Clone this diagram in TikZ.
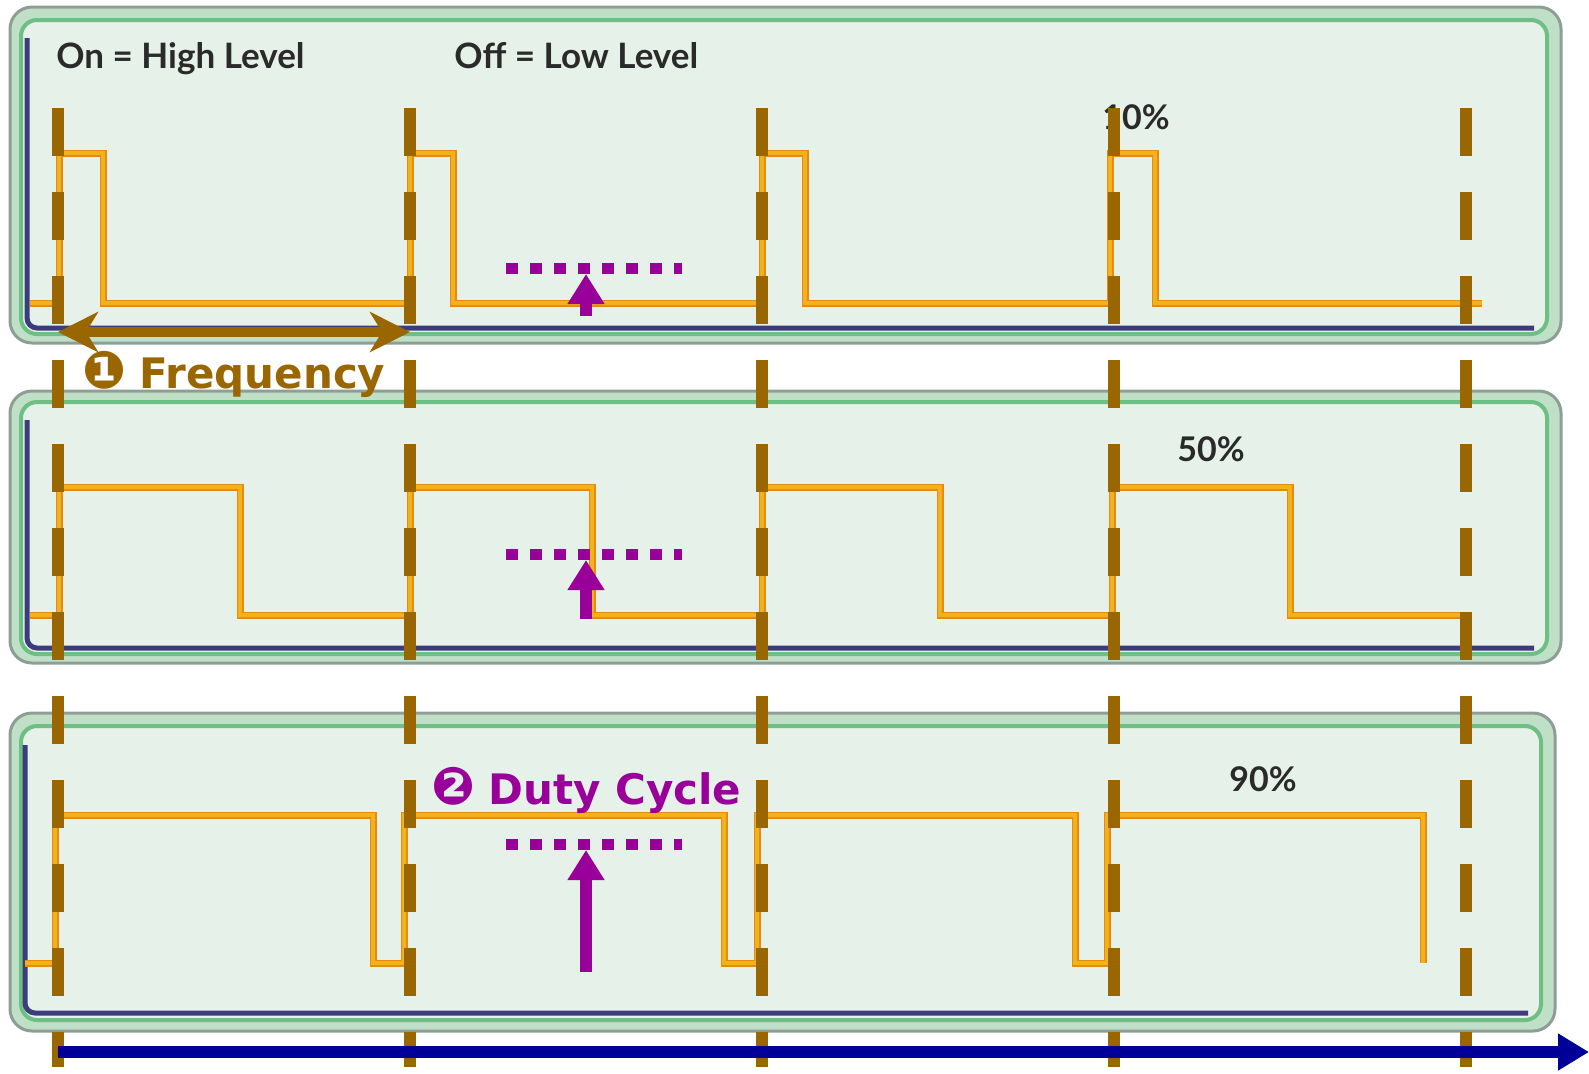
\documentclass[tikz,border=0pt]{standalone}
\usepackage{fontspec}
\usetikzlibrary{arrows.meta}
\newfontfamily\latofont{Lato}
\newfontfamily\dejavu{DejaVu Sans}
\definecolor{brownd}{HTML}{996600}
\definecolor{purp}{HTML}{990099}
\definecolor{bluea}{HTML}{000099}
\definecolor{pgray}{HTML}{8E9E94}
\definecolor{pband}{HTML}{BFE0C7}
\definecolor{pgreen}{HTML}{6EBF84}
\definecolor{pfill}{HTML}{E6F1E9}
\definecolor{pnavy}{HTML}{3C3C7C}
\definecolor{wvor}{HTML}{E68A12}
\definecolor{wvye}{HTML}{F2B31A}
\definecolor{txtg}{HTML}{2A2A2A}
\newcommand{\mybullet}[1]{{\fontsize{26}{28}\selectfont #1}\hspace{6.5pt}}
\tikzset{
  panelouter/.style={draw=pgray, line width=1.5pt, fill=pband, rounded corners=11pt},
  panelinner/.style={draw=pgreen, line width=2pt, fill=pfill, rounded corners=8pt},
  navyline/.style={draw=pnavy, line width=2.5pt, rounded corners=5pt},
  wave/.style={draw=wvye, line width=2.2pt, line join=miter, preaction={draw=wvor, line width=3.5pt}},
  brdash/.style={draw=brownd, line width=6pt, dash pattern=on 24pt off 18pt},
  purdot/.style={draw=purp, line width=5.5pt, dash pattern=on 6pt off 6pt},
  purarrow/.style={draw=purp, line width=6pt, -{Triangle[length=15pt,width=17.5pt]}},
  freqarrow/.style={draw=brownd, line width=5pt, {Stealth[length=20pt,width=20pt,inset=6pt]}-{Stealth[length=20pt,width=20pt,inset=6pt]}},
  timearrow/.style={draw=bluea, line width=6pt, -{Triangle[length=15.5pt,width=17.5pt]}},
  toplbl/.style={inner sep=0pt, anchor=base west, text=txtg, font=\latofont\bfseries\fontsize{17.5}{20}\selectfont},
  pctlbl/.style={inner sep=0pt, anchor=center, text=txtg, font=\latofont\bfseries\fontsize{17}{20}\selectfont},
  biglbl/.style={inner sep=0pt, anchor=base west, font=\dejavu\bfseries\fontsize{21}{24}\selectfont}
}
\begin{document}
\begin{tikzpicture}[x=0.5pt,y=-0.5pt]
\fill[white] (0,0) rectangle (1589,1073);
\useasboundingbox (0,0) rectangle (1589,1073);
% panels
\draw[panelouter] (10,7) rectangle (1561,343);
\draw[panelinner] (21,20) rectangle (1547,334);
\draw[navyline] (27,38) -- (27,328) -- (1534,328);
\draw[panelouter] (10,391) rectangle (1561,663);
\draw[panelinner] (21,402) rectangle (1547,654);
\draw[navyline] (27,420) -- (27,648) -- (1534,648);
\draw[panelouter] (10,713) rectangle (1555,1031);
\draw[panelinner] (21,726) rectangle (1541,1020);
\draw[navyline] (25,745) -- (25,1013) -- (1528,1013);
% waveforms
\draw[wave] (30,303) -- (59,303) -- (59,153) -- (103,153) -- (103,303) -- (410,303) -- (410,153) -- (453,153) -- (453,303) -- (762,303) -- (762,153) -- (805,153) -- (805,303) -- (1110,303) -- (1110,153) -- (1155,153) -- (1155,303) -- (1482,303);
\draw[wave] (30,615) -- (59,615) -- (59,487) -- (240,487) -- (240,615) -- (410,615) -- (410,487) -- (592,487) -- (592,615) -- (762,615) -- (762,487) -- (940,487) -- (940,615) -- (1112,615) -- (1112,487) -- (1290,487) -- (1290,615) -- (1462,615);
\draw[wave] (25,963) -- (55,963) -- (55,815) -- (373,815) -- (373,963) -- (404,963) -- (404,815) -- (724,815) -- (724,963) -- (757,963) -- (757,815) -- (1075,815) -- (1075,963) -- (1107,963) -- (1107,815) -- (1423,815) -- (1423,963);
% labels
\node[toplbl] (onlbl) at (56,68) {On = High Level};
\node[toplbl] (offlbl) at (454,68) {Off = Low Level};
\node[pctlbl] (p10) at (1136,117) {10\%};
\node[pctlbl] (p50) at (1211,449) {50\%};
\node[pctlbl] (p90) at (1263,779) {90\%};
\node[biglbl, text=brownd] (freq) at (82,388) {\mybullet{❶}Frequency};
\node[biglbl, text=purp] (duty) at (431,804) {\mybullet{❷}Duty Cycle};
% purple markers
\coordinate (d1a) at (506,268); \coordinate (d1b) at (682,268);
\coordinate (d2a) at (506,554); \coordinate (d2b) at (682,554);
\coordinate (d3a) at (506,844); \coordinate (d3b) at (682,844);
\draw[purdot] (d1a) -- (d1b);
\draw[purdot] (d2a) -- (d2b);
\draw[purdot] (d3a) -- (d3b);
\coordinate (a1s) at (586,316); \coordinate (a1e) at (586,274);
\coordinate (a2s) at (586,619); \coordinate (a2e) at (586,560);
\coordinate (a3s) at (586,972); \coordinate (a3e) at (586,850);
\draw[purarrow] (a1s) -- (a1e);
\draw[purarrow] (a2s) -- (a2e);
\draw[purarrow] (a3s) -- (a3e);
% brown dashed period markers
\foreach \xx [count=\i] in {58,410,762,1114,1466} {
  \coordinate (t\i) at (\xx,108);
  \coordinate (b\i) at (\xx,1067);
  \draw[brdash] (t\i) -- (b\i);
}
% frequency arrow
\coordinate (fa) at (58,332); \coordinate (fb) at (410,332);
\draw[freqarrow] (fa) -- (fb);
% time axis
\coordinate (ts) at (58,1052); \coordinate (te) at (1589,1052);
\draw[timearrow] (ts) -- (te);
\end{tikzpicture}
\end{document}
